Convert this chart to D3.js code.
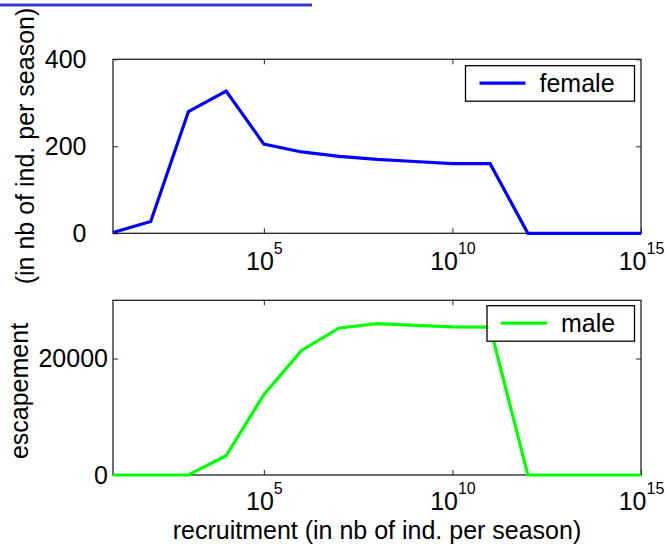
<!DOCTYPE html>
<html>
<head>
<meta charset="utf-8">
<script src="https://cdn.jsdelivr.net/npm/d3@7"></script>
<style>
  html, body { margin: 0; padding: 0; background: #fff; }
  svg { display: block; font-family: "Liberation Sans", Arial, sans-serif; }
</style>
</head>
<body>
<svg id="chart" width="668" height="544"></svg>
<script>
// ---- data ----
const recruitment = [1e1, 1e2, 1e3, 1e4, 1e5, 1e6, 1e7, 1e8, 1e9, 1e10, 1e11, 1e12, 1e13, 1e14, 1e15];
const female = [2, 27, 280, 327, 205, 187, 177, 170, 165, 160, 160, 0, 0, 0, 0];
const male = [0, 0, 0, 3300, 13800, 21400, 25250, 26000, 25700, 25450, 25400, 0, 0, 0, 0];
const xTickValues = [1e5, 1e10, 1e15];
const xTickExponents = ["5", "10", "15"];
const femaleTicks = [0, 200, 400];
const maleTicks = [0, 20000];
const seriesNames = ["female", "male"];
const seriesColors = ["#0000ff", "#00ff00"];

const svg = d3.select("#chart");
const FS = 25;

// decorative stroke at top-left
svg.append("rect").attr("x", 0).attr("y", 3.5).attr("width", 312).attr("height", 3).attr("fill", "#3838d0");

const x = d3.scaleLog().domain([1e1, 1e15]).range([113, 641]);

function panel(cfg) {
  const y = d3.scaleLinear().domain(cfg.domain).range([cfg.bottom, cfg.top]);
  const g = svg.append("g");

  const line = d3.line().x((d, i) => x(recruitment[i])).y(d => y(d));

  // axes box
  g.append("rect").attr("x", x.range()[0]).attr("y", cfg.top)
    .attr("width", x.range()[1] - x.range()[0]).attr("height", cfg.bottom - cfg.top)
    .attr("fill", "none").attr("stroke", "#222").attr("stroke-width", 1.3);

  // bottom axis
  const xb = g.append("g").attr("transform", `translate(0,${cfg.bottom})`)
    .call(d3.axisBottom(x).tickValues(xTickValues).tickSizeInner(-5).tickSizeOuter(0).tickPadding(0));
  xb.select(".domain").remove();
  xb.selectAll(".tick line").attr("stroke", "#222");
  xb.selectAll(".tick text").each(function(d, i) {
    const t = d3.select(this);
    t.text("10").attr("y", cfg.labelY).attr("dy", null).attr("font-size", FS).attr("fill", "#000")
      .attr("font-family", "Liberation Sans, Arial, sans-serif");
    t.append("tspan").attr("dy", -16).attr("font-size", 16).text(xTickExponents[i]);
  });
  // top axis ticks
  const xt = g.append("g").attr("transform", `translate(0,${cfg.top})`)
    .call(d3.axisTop(x).tickValues(xTickValues.slice(0, 2)).tickSizeInner(-5).tickSizeOuter(0).tickFormat(""));
  xt.select(".domain").remove();
  xt.selectAll(".tick line").attr("stroke", "#222");

  // left axis
  const yl = g.append("g").attr("transform", `translate(${x.range()[0]},0)`)
    .call(d3.axisLeft(y).tickValues(cfg.ticks).tickSizeInner(-5).tickSizeOuter(0)
      .tickPadding(cfg.pad).tickFormat(d3.format("d")));
  yl.select(".domain").remove();
  yl.selectAll(".tick line").attr("stroke", "#222");
  yl.selectAll(".tick text").attr("font-size", FS).attr("fill", "#000")
    .attr("font-family", "Liberation Sans, Arial, sans-serif");
  // right axis ticks
  const yr = g.append("g").attr("transform", `translate(${x.range()[1]},0)`)
    .call(d3.axisRight(y).tickValues(cfg.ticks).tickSizeInner(-5).tickSizeOuter(0).tickFormat(""));
  yr.select(".domain").remove();
  yr.selectAll(".tick line").attr("stroke", "#222");

  g.append("path").datum(cfg.values).attr("d", line)
    .attr("fill", "none").attr("stroke", cfg.color).attr("stroke-width", 3.2)
    .attr("stroke-linejoin", "miter");

  // legend
  const L = cfg.legend;
  g.append("rect").attr("x", L.x0).attr("y", L.y0).attr("width", 634.5 - L.x0).attr("height", 35.5)
    .attr("fill", "#fff").attr("stroke", "#000").attr("stroke-width", 1.3);
  g.append("line").attr("x1", L.x0 + 14).attr("x2", L.x0 + 60).attr("y1", L.y0 + 17.5).attr("y2", L.y0 + 17.5)
    .attr("stroke", cfg.color).attr("stroke-width", 3.2);
  g.append("text").attr("x", L.x0 + 74).attr("y", L.y0 + 26).attr("font-size", FS).attr("fill", "#000")
    .text(cfg.name);
}

panel({ domain: [0, 400], top: 59.3, bottom: 233.3, ticks: femaleTicks, pad: 26.5, labelY: 37,
        values: female, color: seriesColors[0], name: seriesNames[0], legend: { x0: 465.5, y0: 65.7 } });
panel({ domain: [0, 30000], top: 300.3, bottom: 475, ticks: maleTicks, pad: 5, labelY: 35,
        values: male, color: seriesColors[1], name: seriesNames[1], legend: { x0: 487, y0: 305.7 } });

// y label (two pieces, rotated)
svg.append("text").attr("transform", "translate(28,391) rotate(-90)").attr("text-anchor", "middle")
  .attr("font-size", FS).attr("fill", "#000").text("escapement");
svg.append("text").attr("transform", "translate(34,146) rotate(-90)").attr("text-anchor", "middle")
  .attr("font-size", FS).attr("fill", "#000").text("(in nb of ind. per season)");

// x label
svg.append("text").attr("x", 377).attr("y", 538.5).attr("text-anchor", "middle")
  .attr("font-size", FS).attr("fill", "#000").text("recruitment (in nb of ind. per season)");
</script>
</body>
</html>
